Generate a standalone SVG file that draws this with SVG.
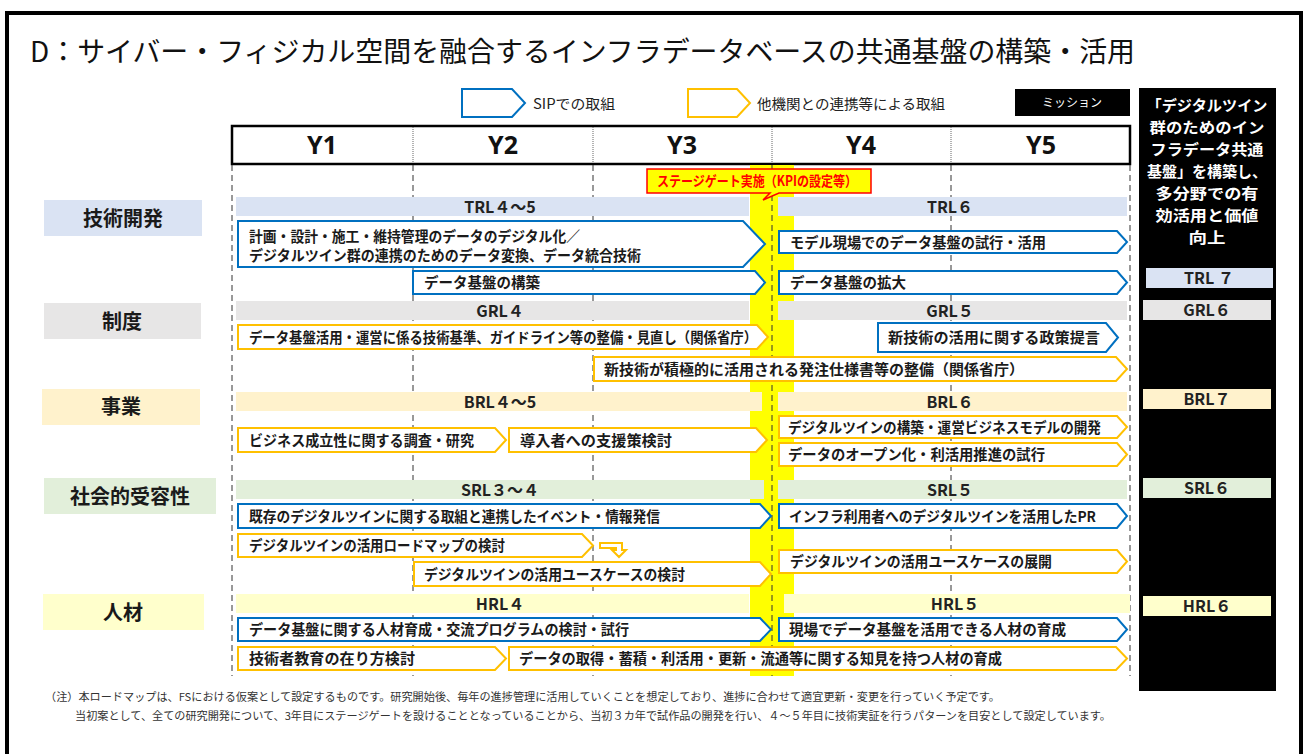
<svg xmlns="http://www.w3.org/2000/svg" width="1309" height="754" viewBox="0 0 1309 754">
<style>
text{font-family:"Noto Sans","Noto Sans CJK JP",sans-serif;fill:#1a1a1a}
.cj{font-family:"Noto Sans CJK JP",sans-serif}
.title{font-size:28px;font-weight:400;fill:#111}
.leg{font-size:14px;fill:#222}
.hdr{font-size:25px;font-weight:700;text-anchor:middle;fill:#111}
.lab{font-size:20px;font-weight:700;text-anchor:middle}
.lvl{font-size:16px;font-weight:700;text-anchor:middle;fill:#222}
.bt{font-size:14.5px;font-weight:700}
.blue{fill:#fff;stroke:#0070c0;stroke-width:2}
.gold{fill:#fff;stroke:#ffc000;stroke-width:2}
.dash{stroke:#333;stroke-width:1;stroke-dasharray:6 4;fill:none}
.mis{font-size:15px;font-weight:700;fill:#fff;text-anchor:middle}
.note{font-size:11px;fill:#333}
.trl{fill:#dae3f3}.grl{fill:#e7e6e6}.brl{fill:#fff2cc}.srl{fill:#e2efda}.hrl{fill:#ffffcc}
</style>
<rect x="0" y="0" width="1309" height="754" fill="#fff"/>
<rect x="7" y="13" width="1294" height="760" fill="none" stroke="#000" stroke-width="4"/>
<text class="title cj" x="30" y="62" textLength="1105" lengthAdjust="spacingAndGlyphs">D：サイバー・フィジカル空間を融合するインフラデータベースの共通基盤の構築・活用</text>

<g id="legend">
<path class="blue" d="M462,89 H512 L525,103 L512,117 H462 Z"/>
<text class="leg cj" x="533" y="109" textLength="82" lengthAdjust="spacingAndGlyphs">SIPでの取組</text>
<path class="gold" d="M688,89 H737 L750,103 L737,117 H688 Z"/>
<text class="leg cj" x="757" y="109" textLength="188" lengthAdjust="spacingAndGlyphs">他機関との連携等による取組</text>
<rect x="1015" y="89" width="115" height="27" fill="#000"/>
<text class="cj" x="1072" y="107" font-size="12" text-anchor="middle" style="fill:#fff">ミッション</text>
</g>

<g id="header">
<rect x="232" y="126" width="898" height="38" fill="#fff" stroke="#000" stroke-width="2.5"/>
<g stroke="#666" stroke-width="1" stroke-dasharray="1 1">
<line x1="413" y1="127" x2="413" y2="163"/><line x1="593" y1="127" x2="593" y2="163"/>
<line x1="772" y1="127" x2="772" y2="163"/><line x1="951" y1="127" x2="951" y2="163"/>
</g>
<text class="hdr" x="322" y="154">Y1</text>
<text class="hdr" x="503" y="154">Y2</text>
<text class="hdr" x="682" y="154">Y3</text>
<text class="hdr" x="861" y="154">Y4</text>
<text class="hdr" x="1041" y="154">Y5</text>
</g>

<g id="grid">
<line class="dash" x1="232" y1="165" x2="232" y2="676"/>
<line class="dash" x1="413" y1="165" x2="413" y2="676"/>
<line class="dash" x1="593" y1="165" x2="593" y2="676"/>
<line class="dash" x1="951" y1="165" x2="951" y2="676"/>
<line class="dash" x1="1130" y1="165" x2="1130" y2="676"/>
<rect x="750" y="165" width="44" height="511" fill="#ffff00"/>
<line class="dash" x1="772" y1="165" x2="772" y2="676"/>
</g>

<g id="stagegate">
<path d="M647,169 H871 V193 H779 L763,200 L770,193 H647 Z" fill="#ffff00" stroke="#ff0000" stroke-width="1.5"/>
<text class="cj" x="657" y="186" font-size="14" font-weight="700" style="fill:#ff0000" textLength="200" lengthAdjust="spacingAndGlyphs">ステージゲート実施（KPIの設定等）</text>
</g>

<g id="labels">
<rect class="trl" x="44" y="200" width="158" height="36"/>
<text class="lab cj" x="123" y="225.5">技術開発</text>
<rect class="grl" x="44" y="303" width="157" height="36"/>
<text class="lab cj" x="122" y="328.5">制度</text>
<rect class="brl" x="42" y="389" width="158" height="36"/>
<text class="lab cj" x="121" y="414">事業</text>
<rect class="srl" x="44" y="478" width="172" height="36"/>
<text class="lab cj" x="130" y="503.5">社会的受容性</text>
<rect class="hrl" x="43" y="594" width="161" height="36"/>
<text class="lab cj" x="123" y="619.5">人材</text>
</g>

<g id="levels">
<rect class="trl" x="236" y="197" width="513" height="19"/>
<text class="lvl cj" x="500" y="212.5">TRL４～5</text>
<rect class="trl" x="778" y="197" width="349" height="19"/>
<text class="lvl cj" x="950" y="212.5">TRL６</text>
<rect class="grl" x="236" y="301" width="513" height="19"/>
<text class="lvl cj" x="500" y="316.5">GRL４</text>
<rect class="grl" x="778" y="301" width="349" height="19"/>
<text class="lvl cj" x="950" y="316.5">GRL５</text>
<rect class="brl" x="236" y="392" width="526" height="19"/>
<text class="lvl cj" x="500" y="407.5">BRL４～5</text>
<rect class="brl" x="778" y="392" width="349" height="19"/>
<text class="lvl cj" x="950" y="407.5">BRL６</text>
<rect class="srl" x="236" y="480" width="528" height="19"/>
<text class="lvl cj" x="500" y="495.5">SRL３～４</text>
<rect class="srl" x="778" y="480" width="349" height="19"/>
<text class="lvl cj" x="950" y="495.5">SRL５</text>
<rect class="hrl" x="236" y="594" width="513" height="19"/>
<text class="lvl cj" x="500" y="609.5">HRL４</text>
<rect class="hrl" x="784" y="594" width="346" height="19"/>
<text class="lvl cj" x="955" y="609.5">HRL５</text>
</g>

<g id="connectors">
<path class="gold" d="M600,543 H622 V550 H626 L619,557 L612,550 H616 V548 H600 Z"/>
</g>

<g id="n1"><path class="blue" d="M238,221 H743 L765,244 L743,267 H238 Z"/>
<text class="bt cj" x="249" y="241.5" textLength="331" lengthAdjust="spacingAndGlyphs">計画・設計・施工・維持管理のデータのデジタル化／</text>
<text class="bt cj" x="249" y="260.5" textLength="392" lengthAdjust="spacingAndGlyphs">デジタルツイン群の連携のためのデータ変換、データ統合技術</text></g>
<g id="n2"><path class="blue" d="M779,231 H1117 L1127,242 L1117,253 H779 Z"/>
<text class="bt cj" x="790" y="247.5" textLength="256" lengthAdjust="spacingAndGlyphs">モデル現場でのデータ基盤の試行・活用</text></g>
<g id="n3"><path class="blue" d="M413,271 H755 L765,282.5 L755,294 H413 Z"/>
<text class="bt cj" x="424" y="288" textLength="116" lengthAdjust="spacingAndGlyphs">データ基盤の構築</text></g>
<g id="n4"><path class="blue" d="M779,271 H1117 L1127,282.5 L1117,294 H779 Z"/>
<text class="bt cj" x="790" y="288" textLength="116" lengthAdjust="spacingAndGlyphs">データ基盤の拡大</text></g>
<g id="n5"><path class="gold" d="M238,325 H757 L768,337 L757,349 H238 Z"/>
<text class="bt cj" x="249" y="342.5" textLength="508" lengthAdjust="spacingAndGlyphs">データ基盤活用・運営に係る技術基準、ガイドライン等の整備・見直し（関係省庁）</text></g>
<g id="n6"><path class="blue" d="M878,323 H1106 L1118,337.5 L1106,352 H878 Z"/>
<text class="bt cj" x="888" y="343" textLength="212" lengthAdjust="spacingAndGlyphs">新技術の活用に関する政策提言</text></g>
<g id="n7"><path class="gold" d="M594,357 H1116 L1127,369 L1116,381 H594 Z"/>
<text class="bt cj" x="604" y="374.5" textLength="420" lengthAdjust="spacingAndGlyphs">新技術が積極的に活用される発注仕様書等の整備（関係省庁）</text></g>
<g id="n8"><path class="gold" d="M238,428 H495 L506,440 L495,452 H238 Z"/>
<text class="bt cj" x="249" y="445.5" textLength="225" lengthAdjust="spacingAndGlyphs">ビジネス成立性に関する調査・研究</text></g>
<g id="n9"><path class="gold" d="M509,428 H756 L767,440 L756,452 H509 Z"/>
<text class="bt cj" x="520" y="445.5" textLength="152" lengthAdjust="spacingAndGlyphs">導入者への支援策検討</text></g>
<g id="n10"><path class="gold" d="M779,416 H1117 L1127,427 L1117,438 H779 Z"/>
<text class="bt cj" x="788" y="432.5" textLength="313" lengthAdjust="spacingAndGlyphs">デジタルツインの構築・運営ビジネスモデルの開発</text></g>
<g id="n11"><path class="gold" d="M779,443 H1117 L1127,454.5 L1117,466 H779 Z"/>
<text class="bt cj" x="788" y="460" textLength="257" lengthAdjust="spacingAndGlyphs">データのオープン化・利活用推進の試行</text></g>
<g id="n12"><path class="blue" d="M238,504 H760 L771,516 L760,528 H238 Z"/>
<text class="bt cj" x="249" y="521.5" textLength="411" lengthAdjust="spacingAndGlyphs">既存のデジタルツインに関する取組と連携したイベント・情報発信</text></g>
<g id="n13"><path class="blue" d="M779,504 H1117 L1127,516 L1117,528 H779 Z"/>
<text class="bt cj" x="789" y="521.5" textLength="307" lengthAdjust="spacingAndGlyphs">インフラ利用者へのデジタルツインを活用したPR</text></g>
<g id="n14"><path class="gold" d="M238,534 H582 L593,545.5 L582,557 H238 Z"/>
<text class="bt cj" x="249" y="551" textLength="256" lengthAdjust="spacingAndGlyphs">デジタルツインの活用ロードマップの検討</text></g>
<g id="n15"><path class="gold" d="M414,562 H760 L771,574 L760,586 H414 Z"/>
<text class="bt cj" x="424" y="579.5" textLength="261" lengthAdjust="spacingAndGlyphs">デジタルツインの活用ユースケースの検討</text></g>
<g id="n16"><path class="gold" d="M779,550 H1117 L1127,561.5 L1117,573 H779 Z"/>
<text class="bt cj" x="790" y="567" textLength="262" lengthAdjust="spacingAndGlyphs">デジタルツインの活用ユースケースの展開</text></g>
<g id="n17"><path class="blue" d="M238,618 H760 L771,629.5 L760,641 H238 Z"/>
<text class="bt cj" x="249" y="635" textLength="380" lengthAdjust="spacingAndGlyphs">データ基盤に関する人材育成・交流プログラムの検討・試行</text></g>
<g id="n18"><path class="blue" d="M779,618 H1117 L1127,629.5 L1117,641 H779 Z"/>
<text class="bt cj" x="789" y="635" textLength="277" lengthAdjust="spacingAndGlyphs">現場でデータ基盤を活用できる人材の育成</text></g>
<g id="n19"><path class="gold" d="M238,647 H495 L506,658.5 L495,670 H238 Z"/>
<text class="bt cj" x="249" y="664" textLength="166" lengthAdjust="spacingAndGlyphs">技術者教育の在り方検討</text></g>
<g id="n20"><path class="gold" d="M509,647 H1116 L1127,658.5 L1116,670 H509 Z"/>
<text class="bt cj" x="519" y="664" textLength="483" lengthAdjust="spacingAndGlyphs">データの取得・蓄積・利活用・更新・流通等に関する知見を持つ人材の育成</text></g>

<g id="mission">
<rect x="1139" y="88" width="137" height="603" fill="#000"/>
<text class="mis cj" x="1207" y="111" style="fill:#fff" textLength="121" lengthAdjust="spacingAndGlyphs">「デジタルツイン</text>
<text class="mis cj" x="1207" y="133" style="fill:#fff" textLength="115" lengthAdjust="spacingAndGlyphs">群のためのイン</text>
<text class="mis cj" x="1207" y="155" style="fill:#fff" textLength="113" lengthAdjust="spacingAndGlyphs">フラデータ共通</text>
<text class="mis cj" x="1207" y="177" style="fill:#fff" textLength="120" lengthAdjust="spacingAndGlyphs">基盤」を構築し、</text>
<text class="mis cj" x="1207" y="199" style="fill:#fff" textLength="103" lengthAdjust="spacingAndGlyphs">多分野での有</text>
<text class="mis cj" x="1207" y="221" style="fill:#fff" textLength="103" lengthAdjust="spacingAndGlyphs">効活用と価値</text>
<text class="mis cj" x="1207" y="243" style="fill:#fff" textLength="37" lengthAdjust="spacingAndGlyphs">向上</text>
<rect class="trl" x="1146" y="268" width="127" height="20"/>
<text class="lvl cj" x="1209" y="284">TRL ７</text>
<rect class="grl" x="1143" y="300" width="128" height="20"/>
<text class="lvl cj" x="1207" y="316">GRL６</text>
<rect class="brl" x="1143" y="389" width="128" height="20"/>
<text class="lvl cj" x="1207" y="405">BRL７</text>
<rect class="srl" x="1143" y="478" width="128" height="20"/>
<text class="lvl cj" x="1207" y="494">SRL６</text>
<rect class="hrl" x="1143" y="596" width="128" height="20"/>
<text class="lvl cj" x="1207" y="612">HRL６</text>
</g>

<g id="footnote">
<text class="note cj" x="45" y="701" textLength="955" lengthAdjust="spacingAndGlyphs">（注）本ロードマップは、FSにおける仮案として設定するものです。研究開始後、毎年の進捗管理に活用していくことを想定しており、進捗に合わせて適宜更新・変更を行っていく予定です。</text>
<text class="note cj" x="75" y="720" textLength="1036" lengthAdjust="spacingAndGlyphs">当初案として、全ての研究開発について、3年目にステージゲートを設けることとなっていることから、当初３カ年で試作品の開発を行い、４～５年目に技術実証を行うパターンを目安として設定しています。</text>
</g>
</svg>
